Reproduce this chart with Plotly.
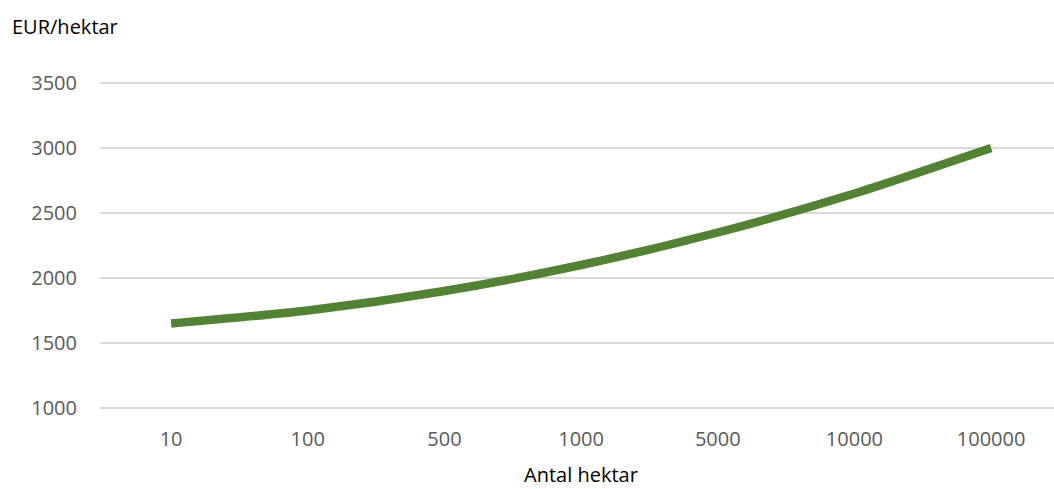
import plotly.graph_objects as go

# Cost per hectare by farm size
hektar = ["10", "100", "500", "1000", "5000", "10000", "100000"]
eur_per_hektar = [1650, 1750, 1900, 2100, 2350, 2650, 3000]
y_ticks = [1000, 1500, 2000, 2500, 3000, 3500]

FONT = "Open Sans"
GREEN = "#548235"

fig = go.Figure(
    go.Scatter(
        x=hektar,
        y=eur_per_hektar,
        mode="lines",
        line=dict(color=GREEN, width=8.5, shape="spline", smoothing=0.7),
        hoverinfo="x+y",
    )
)

fig.update_layout(
    width=1054,
    height=489,
    margin=dict(l=100, r=0, t=70, b=68),
    paper_bgcolor="white",
    plot_bgcolor="white",
    showlegend=False,
    font=dict(family=FONT, size=20, color="#595959"),
    xaxis=dict(
        type="category",
        range=[-0.52, 6.46],
        showgrid=False,
        showline=False,
        zeroline=False,
        ticks="",
        tickfont=dict(family=FONT, size=20, color="#595959"),
        ticklabelstandoff=4,
    ),
    yaxis=dict(
        range=[900, 3600],
        tickvals=y_ticks,
        ticktext=[str(v) for v in y_ticks],
        showgrid=True,
        gridcolor="#d9d9d9",
        gridwidth=1.5,
        zeroline=False,
        showline=False,
        ticks="",
        tickfont=dict(family=FONT, size=20, color="#595959"),
        ticklabelstandoff=22,
    ),
    annotations=[
        dict(
            text="EUR/hektar",
            xref="paper", yref="paper",
            x=0, y=1,
            xshift=-90, yshift=44,
            xanchor="left", yanchor="middle",
            showarrow=False,
            font=dict(family=FONT, size=20, color="black"),
        ),
        dict(
            text="Antal hektar",
            xref="x", yref="paper",
            x=3, y=0,
            yshift=-53,
            xanchor="center", yanchor="middle",
            showarrow=False,
            font=dict(family=FONT, size=20, color="black"),
        ),
    ],
)

fig.write_html("out.html")
